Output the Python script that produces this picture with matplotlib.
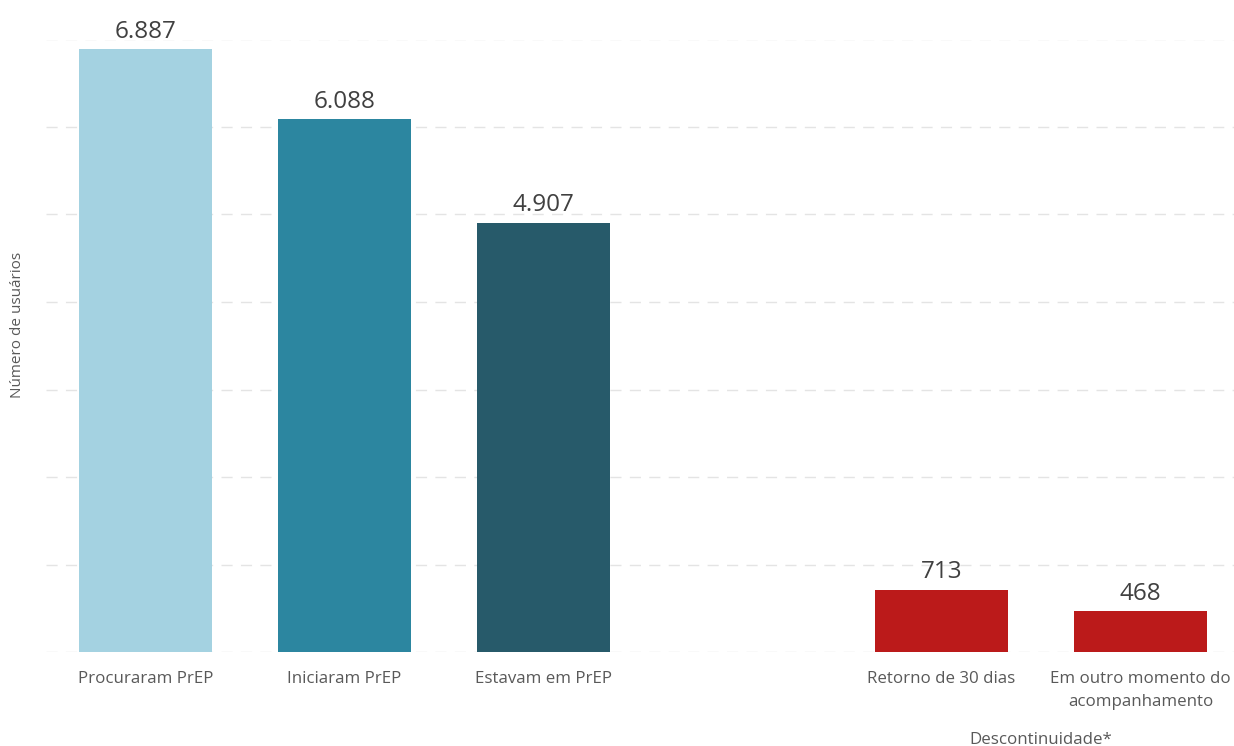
import matplotlib.pyplot as plt

plt.rcParams["font.family"] = ["Open Sans", "DejaVu Sans"]

categories = ["Procuraram PrEP", "Iniciaram PrEP", "Estavam em PrEP",
              "Retorno de 30 dias", "Em outro momento do\nacompanhamento"]
values = [6887, 6088, 4907, 713, 468]
positions = [0, 1, 2, 4, 5]
colors = ["#A4D2E1", "#2C86A0", "#275A6A", "#BB1A1A", "#BB1A1A"]
labels = ["6.887", "6.088", "4.907", "713", "468"]

fig = plt.figure(figsize=(12.34, 7.46), dpi=100)
ax = fig.add_axes([46 / 1234, 94 / 746, 1 - 46 / 1234, (652 - 39.5) / 746])

ax.bar(positions, values, width=0.667, color=colors, zorder=2)
for x, v, t in zip(positions, values, labels):
    ax.text(x, v + 60, t, ha="center", va="bottom", fontsize=17.5,
            color="#404040", clip_on=False)

ax.set_xlim(-0.5, 5.47)
ax.set_ylim(0, 7000)
ax.set_yticks(range(0, 7001, 1000))
ax.set_yticklabels([])
ax.tick_params(axis="y", length=0)
ax.tick_params(axis="x", length=0, pad=14, labelsize=12.2, labelcolor="#595959")
ax.set_xticks(positions)
ax.set_xticklabels(categories, linespacing=1.55)
ax.grid(axis="y", color="#E4E4E4", linestyle=(0, (8, 6)), linewidth=1, zorder=0)
for s in ax.spines.values():
    s.set_visible(False)

fig.text(18 / 1234, 1 - 325 / 746, "Número de usuários", rotation=90,
         ha="center", va="center", fontsize=11, color="#595959")
ax.text(4.5, -1005, "Descontinuidade*", ha="center", va="center",
        fontsize=12.2, color="#595959", clip_on=False)

fig.savefig("out.png", dpi=100)
